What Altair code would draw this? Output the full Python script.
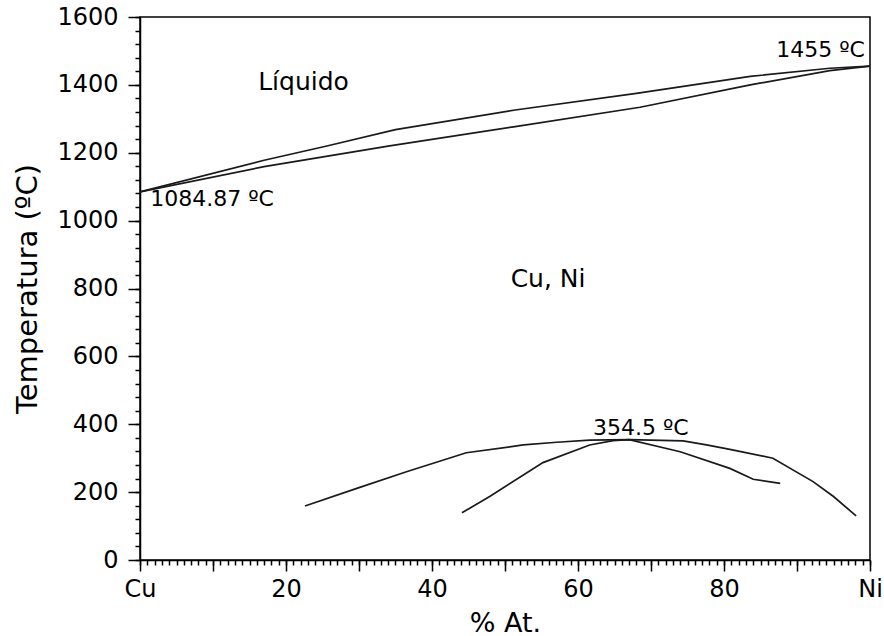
import altair as alt
import pandas as pd

# ---- data ----
liq_x = [0, 17, 25.6, 35, 51.4, 68, 83.6, 94.5, 100]
liq_t = [1084.87, 1178, 1220, 1268, 1326, 1375, 1425, 1449, 1455]

sol_x = [0, 17, 34.2, 51.4, 68.5, 83.6, 94.5, 100]
sol_t = [1084.87, 1159, 1220, 1277, 1334, 1400, 1442, 1455]

bin_x = [22.6, 29.7, 36.5, 44.7, 52.5, 57.1, 61.6, 67, 74.4, 77.6, 80.8, 86.7, 92.2, 95, 98.1]
bin_t = [159, 211, 260, 316, 339, 347, 353, 354.5, 351, 339, 326, 300, 231, 187, 130]

spi_x = [44.1, 47.9, 55.2, 61.6, 64.8, 67, 74, 80.8, 84, 87.7]
spi_t = [139, 187, 287, 339, 352, 354.5, 319, 270, 238, 226]

# labels
c_text = ["Líquido", "Cu, Ni", "354.5 ºC"]
c_x = [22.4, 55.9, 68.6]
c_t = [1385, 805, 368]
c_size = [25, 25, 22]

l_text = ["1084.87 ºC"]
l_x = [1.4]
l_t = [1044]

r_text = ["1455 ºC"]
r_x = [99.3]
r_t = [1481]

x_major = [0, 10, 20, 30, 40, 50, 60, 70, 80, 90, 100]
x_minor = list(range(0, 101))
y_major = [0, 200, 400, 600, 800, 1000, 1200, 1400, 1600]
y_minor = list(range(0, 1601, 40))

FONT = "DejaVu Sans"

rows = []
for name, xs, ts in [("liq", liq_x, liq_t), ("sol", sol_x, sol_t),
                     ("bin", bin_x, bin_t), ("spi", spi_x, spi_t)]:
    for i, (a, b) in enumerate(zip(xs, ts)):
        rows.append({"x": a, "T": b, "curve": name, "o": i})
lines_df = pd.DataFrame(rows)

x_scale = alt.Scale(domain=[0, 100], nice=False, zero=False)
y_scale = alt.Scale(domain=[0, 1600], nice=False)

x_axis = alt.Axis(
    orient="bottom", values=x_major,
    labelExpr="datum.value == 0 ? 'Cu' : (datum.value == 100 ? 'Ni' : (datum.value % 20 == 0 ? datum.label : ''))",
    tickSize=11, labelOverlap=False, labelFlush=False, grid=False,
    title="% At.", labelPadding=6, titlePadding=9, titleFontSize=27,
)
y_axis = alt.Axis(
    orient="left", values=y_major, tickSize=12,
    labelOverlap=False, grid=False, format="d",
    title="Temperatura (ºC)", labelPadding=10, titlePadding=14, titleFontSize=29,
)
x_axis_minor = alt.Axis(
    orient="bottom", values=x_minor, tickSize=5, labels=False, domain=False,
    grid=False, title=None,
)
y_axis_minor = alt.Axis(
    orient="left", values=y_minor, tickSize=5, labels=False, domain=False,
    grid=False, title=None,
)

lines = alt.Chart(lines_df).mark_line(color="#1a1a1a", strokeWidth=1.7).encode(
    x=alt.X("x:Q", scale=x_scale, axis=x_axis),
    y=alt.Y("T:Q", scale=y_scale, axis=y_axis),
    detail="curve:N",
    order="o:Q",
)

c_df = pd.DataFrame({"x": c_x, "T": c_t, "text": c_text, "size": c_size})
l_df = pd.DataFrame({"x": l_x, "T": l_t, "text": l_text})
r_df = pd.DataFrame({"x": r_x, "T": r_t, "text": r_text})

t_center = alt.Chart(c_df).mark_text(align="center", baseline="alphabetic", font=FONT, color="black").encode(
    x=alt.X("x:Q", scale=x_scale, axis=x_axis_minor),
    y=alt.Y("T:Q", scale=y_scale, axis=y_axis_minor),
    text="text:N",
    size=alt.Size("size:Q", scale=None),
)
t_left = alt.Chart(l_df).mark_text(align="left", baseline="alphabetic", font=FONT, fontSize=22, color="black").encode(
    x=alt.X("x:Q", scale=x_scale, axis=None), y=alt.Y("T:Q", scale=y_scale, axis=None), text="text:N",
)
t_right = alt.Chart(r_df).mark_text(align="right", baseline="alphabetic", font=FONT, fontSize=22, color="black").encode(
    x=alt.X("x:Q", scale=x_scale, axis=None), y=alt.Y("T:Q", scale=y_scale, axis=None), text="text:N",
)

chart = alt.layer(lines, t_center, t_left, t_right).resolve_axis(
    x="independent", y="independent"
).properties(
    width=730, height=543,
    autosize=alt.AutoSizeParams(type="none"),
    padding={"left": 140, "top": 17, "right": 14, "bottom": 76},
).configure_view(
    stroke="black", strokeWidth=1.5,
).configure_axis(
    labelFont=FONT, labelFontSize=24, labelColor="black",
    titleFont=FONT, titleColor="black", titleFontWeight="normal",
    domainColor="black", domainWidth=1.5, tickColor="black", tickWidth=1.5,
)

chart.save("out.html", embed_options={"renderer": "svg", "actions": False})
